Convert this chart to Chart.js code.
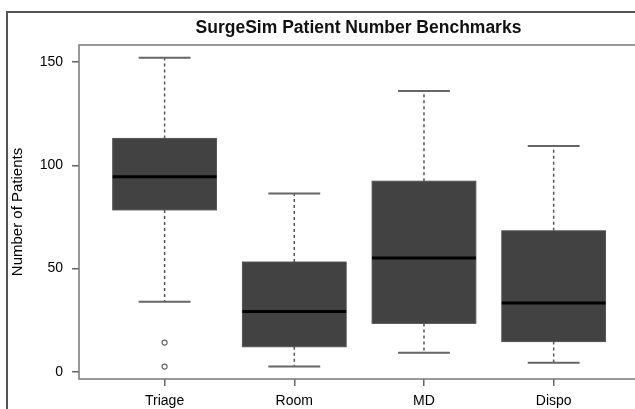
<!DOCTYPE html>
<html>
<head>
<meta charset="utf-8">
<script src="https://cdn.jsdelivr.net/npm/chart.js@4"></script>
<style>
  html, body { margin: 0; padding: 0; background: #fff; overflow: hidden; }
  #wrap { width: 635px; height: 409px; }
</style>
</head>
<body>
<div id="wrap"><canvas id="boxChart" width="635" height="409"></canvas></div>
<script>
// data
const categories = ['Triage', 'Room', 'MD', 'Dispo'];
const lowWhisker = [34, 2.6, 9.3, 4.5];
const q1 = [78.4, 12.2, 23.5, 14.7];
const median = [94.5, 29.2, 55.2, 33.4];
const q3 = [113, 53.2, 92.3, 68.3];
const highWhisker = [152, 86.3, 136, 109.3];
const outlierGroup = [1, 1];
const outlierValue = [14.2, 2.6];
const yTicks = [0, 50, 100, 150];
const chartTitle = 'SurgeSim Patient Number Benchmarks';
const yTitle = 'Number of Patients';

const FONT = '"Liberation Sans", Arial, sans-serif';

// boxes, whiskers, frame and title
const boxPlugin = {
  id: 'boxes',
  beforeDraw(chart) {
    const ctx = chart.ctx, a = chart.chartArea;
    ctx.save();
    ctx.fillStyle = '#fff';
    ctx.fillRect(0, 0, chart.width, chart.height);
    // outer figure frame
    ctx.strokeStyle = '#555';
    ctx.lineWidth = 2;
    ctx.beginPath();
    ctx.moveTo(7, chart.height + 5);
    ctx.lineTo(7, 12);
    ctx.lineTo(chart.width + 5, 12);
    ctx.stroke();
    // title, centred on the plot
    ctx.fillStyle = '#111';
    ctx.font = 'bold 17.5px ' + FONT;
    ctx.textAlign = 'center';
    ctx.textBaseline = 'middle';
    ctx.fillText(chartTitle, (a.left + 638) / 2, 28);
    ctx.restore();
  },
  beforeDatasetsDraw(chart) {
    const ctx = chart.ctx, x = chart.scales.x, y = chart.scales.y, a = chart.chartArea;
    const half = 0.4, cap = 0.2;
    ctx.save();
    categories.forEach((c, i) => {
      const cx = x.getPixelForValue(i + 1);
      const bl = x.getPixelForValue(i + 1 - half), br = x.getPixelForValue(i + 1 + half);
      const cl = x.getPixelForValue(i + 1 - cap), cr = x.getPixelForValue(i + 1 + cap);
      const yLo = y.getPixelForValue(lowWhisker[i]), yHi = y.getPixelForValue(highWhisker[i]);
      const y1 = y.getPixelForValue(q1[i]), y3 = y.getPixelForValue(q3[i]), ym = y.getPixelForValue(median[i]);
      // dashed whiskers
      ctx.strokeStyle = '#555';
      ctx.lineWidth = 1.5;
      ctx.setLineDash([3, 3]);
      ctx.beginPath();
      ctx.moveTo(cx, y3); ctx.lineTo(cx, yHi);
      ctx.moveTo(cx, y1); ctx.lineTo(cx, yLo);
      ctx.stroke();
      ctx.setLineDash([]);
      // caps
      ctx.strokeStyle = '#666';
      ctx.lineWidth = 2;
      ctx.beginPath();
      ctx.moveTo(cl, yHi); ctx.lineTo(cr, yHi);
      ctx.moveTo(cl, yLo); ctx.lineTo(cr, yLo);
      ctx.stroke();
      // box
      ctx.fillStyle = '#424242';
      ctx.fillRect(bl, y3, br - bl, y1 - y3);
      ctx.strokeStyle = '#555';
      ctx.lineWidth = 1;
      ctx.strokeRect(bl, y3, br - bl, y1 - y3);
      // median
      ctx.strokeStyle = '#000';
      ctx.lineWidth = 3;
      ctx.beginPath();
      ctx.moveTo(bl, ym); ctx.lineTo(br, ym);
      ctx.stroke();
    });
    // plot frame
    ctx.strokeStyle = '#777';
    ctx.lineWidth = 1.5;
    ctx.strokeRect(a.left, a.top, a.right - a.left + 10, a.bottom - a.top);
    ctx.restore();
  }
};

new Chart(document.getElementById('boxChart'), {
  type: 'scatter',
  data: {
    datasets: [{
      label: 'Outliers',
      data: outlierGroup.map((g, i) => ({ x: g, y: outlierValue[i] })),
      pointStyle: 'circle',
      pointRadius: 2.5,
      borderColor: '#666',
      borderWidth: 1.2,
      backgroundColor: 'rgba(0,0,0,0)'
    }]
  },
  options: {
    responsive: false,
    animation: false,
    layout: { padding: { top: 45, right: 0, left: 0, bottom: 0 } },
    plugins: { legend: { display: false }, tooltip: { enabled: false }, title: { display: false } },
    scales: {
      x: {
        type: 'linear',
        min: 0.34,
        max: 4.587,
        afterBuildTicks: s => { s.ticks = categories.map((c, i) => ({ value: i + 1 })); },
        afterFit: s => { s.height = 30; },
        ticks: {
          callback: v => categories[v - 1],
          color: '#000',
          padding: 7,
          maxRotation: 0,
          font: { family: FONT, size: 14 }
        },
        grid: { drawOnChartArea: false, drawTicks: true, tickLength: 7, color: '#666', lineWidth: 1.5 },
        border: { display: false }
      },
      y: {
        min: -3.4,
        max: 158.2,
        afterBuildTicks: s => { s.ticks = yTicks.map(v => ({ value: v })); },
        afterFit: s => { s.width = 79; },
        ticks: {
          color: '#000',
          padding: 9,
          font: { family: FONT, size: 14 }
        },
        title: {
          display: true,
          text: yTitle,
          color: '#000',
          padding: { top: 9, bottom: 0 },
          font: { family: FONT, size: 15 }
        },
        grid: { drawOnChartArea: false, drawTicks: true, tickLength: 7, color: '#666', lineWidth: 1.5 },
        border: { display: false }
      }
    }
  },
  plugins: [boxPlugin]
});
</script>
</body>
</html>
